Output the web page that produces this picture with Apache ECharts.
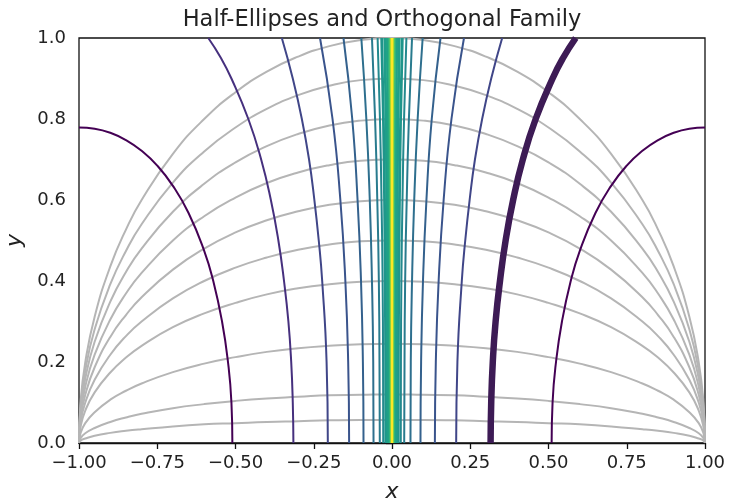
<!DOCTYPE html>
<html>
<head>
<meta charset="utf-8">
<script src="https://cdn.jsdelivr.net/npm/echarts@6/dist/echarts.min.js"></script>
<style>
html, body { margin: 0; padding: 0; background: #fff; }
#chart { width: 729px; height: 503px; }
</style>
</head>
<body>
<div id="chart"></div>
<script>
// half-ellipses (gray) at fixed x positions
var ellipseX = [-1, -0.995, -0.98, -0.95, -0.9, -0.85, -0.8, -0.7, -0.6, -0.5, -0.4, -0.3, -0.2, -0.1, 0,
    0.1, 0.2, 0.3, 0.4, 0.5, 0.6, 0.7, 0.8, 0.85, 0.9, 0.95, 0.98, 0.995, 1];
var ellipse100 = [0, 0.100, 0.199, 0.312, 0.436, 0.527, 0.600, 0.714, 0.800, 0.866, 0.917, 0.954, 0.980, 0.995, 1.000,
    0.995, 0.980, 0.954, 0.917, 0.866, 0.800, 0.714, 0.600, 0.527, 0.436, 0.312, 0.199, 0.100, 0];
var ellipse090 = [0, 0.090, 0.179, 0.281, 0.392, 0.474, 0.540, 0.643, 0.720, 0.779, 0.825, 0.859, 0.882, 0.896, 0.900,
    0.896, 0.882, 0.859, 0.825, 0.779, 0.720, 0.643, 0.540, 0.474, 0.392, 0.281, 0.179, 0.090, 0];
var ellipse080 = [0, 0.080, 0.159, 0.250, 0.349, 0.422, 0.480, 0.571, 0.640, 0.693, 0.733, 0.763, 0.784, 0.796, 0.800,
    0.796, 0.784, 0.763, 0.733, 0.693, 0.640, 0.571, 0.480, 0.422, 0.349, 0.250, 0.159, 0.080, 0];
var ellipse070 = [0, 0.070, 0.139, 0.218, 0.305, 0.369, 0.420, 0.500, 0.560, 0.606, 0.642, 0.668, 0.686, 0.697, 0.700,
    0.697, 0.686, 0.668, 0.642, 0.606, 0.560, 0.500, 0.420, 0.369, 0.305, 0.218, 0.139, 0.070, 0];
var ellipse060 = [0, 0.060, 0.119, 0.187, 0.262, 0.316, 0.360, 0.428, 0.480, 0.520, 0.550, 0.572, 0.588, 0.597, 0.600,
    0.597, 0.588, 0.572, 0.550, 0.520, 0.480, 0.428, 0.360, 0.316, 0.262, 0.187, 0.119, 0.060, 0];
var ellipse050 = [0, 0.050, 0.100, 0.156, 0.218, 0.264, 0.300, 0.357, 0.400, 0.433, 0.458, 0.477, 0.490, 0.498, 0.500,
    0.498, 0.490, 0.477, 0.458, 0.433, 0.400, 0.357, 0.300, 0.264, 0.218, 0.156, 0.100, 0.050, 0];
var ellipse040 = [0, 0.040, 0.080, 0.125, 0.174, 0.211, 0.240, 0.286, 0.320, 0.346, 0.367, 0.382, 0.392, 0.398, 0.400,
    0.398, 0.392, 0.382, 0.367, 0.346, 0.320, 0.286, 0.240, 0.211, 0.174, 0.125, 0.080, 0.040, 0];
var ellipse025 = [0, 0.024, 0.049, 0.076, 0.107, 0.129, 0.147, 0.175, 0.196, 0.212, 0.225, 0.234, 0.240, 0.244, 0.245,
    0.244, 0.240, 0.234, 0.225, 0.212, 0.196, 0.175, 0.147, 0.129, 0.107, 0.076, 0.049, 0.024, 0];
var ellipse012 = [0, 0.012, 0.024, 0.037, 0.052, 0.063, 0.072, 0.086, 0.096, 0.104, 0.110, 0.114, 0.118, 0.119, 0.120,
    0.119, 0.118, 0.114, 0.110, 0.104, 0.096, 0.086, 0.072, 0.063, 0.052, 0.037, 0.024, 0.012, 0];
var ellipse006 = [0, 0.006, 0.011, 0.018, 0.025, 0.030, 0.034, 0.041, 0.046, 0.049, 0.052, 0.054, 0.056, 0.057, 0.057,
    0.057, 0.056, 0.054, 0.052, 0.049, 0.046, 0.041, 0.034, 0.030, 0.025, 0.018, 0.011, 0.006, 0];

// orthogonal family, outer curves
var curveAY = [0, 0.1, 0.2, 0.3, 0.4, 0.4745, 0.568, 0.635, 0.685, 0.7215, 0.748, 0.766, 0.776, 0.779];
var curveARight = [0.51, 0.513, 0.524, 0.543, 0.571, 0.6, 0.65, 0.7, 0.75, 0.8, 0.85, 0.9, 0.95, 1];
var curveALeft = [-0.51, -0.513, -0.524, -0.543, -0.571, -0.6, -0.65, -0.7, -0.75, -0.8, -0.85, -0.9, -0.95, -1];

var curveBY = [0, 0.1, 0.2, 0.3, 0.4, 0.5, 0.6, 0.7, 0.8, 0.9, 0.95, 1];
var curveBRight = [0.315, 0.317, 0.322, 0.331, 0.345, 0.363, 0.387, 0.418, 0.459, 0.513, 0.546, 0.587];
var curveBLeft = [-0.315, -0.317, -0.322, -0.331, -0.345, -0.363, -0.387, -0.418, -0.459, -0.513, -0.546, -0.587];

var curveCY = [0, 0.2, 0.4, 0.5, 0.6, 0.7, 0.8, 0.9, 1];
var curveCRight = [0.205, 0.209, 0.223, 0.234, 0.248, 0.265, 0.288, 0.317, 0.352];
var curveCLeft = [-0.205, -0.209, -0.223, -0.234, -0.248, -0.265, -0.288, -0.317, -0.352];

// inner curves, all on the same y rows
var innerY = [0, 0.2, 0.4, 0.6, 0.8, 1];
var curveDRight = [0.137, 0.140, 0.149, 0.165, 0.190, 0.230];
var curveDLeft = [-0.137, -0.140, -0.149, -0.165, -0.190, -0.230];
var curveERight = [0.091, 0.093, 0.099, 0.110, 0.127, 0.155];
var curveELeft = [-0.091, -0.093, -0.099, -0.110, -0.127, -0.155];
var curveFRight = [0.059, 0.060, 0.064, 0.071, 0.082, 0.098];
var curveFLeft = [-0.059, -0.060, -0.064, -0.071, -0.082, -0.098];
var curveGRight = [0.039, 0.040, 0.042, 0.047, 0.054, 0.064];
var curveGLeft = [-0.039, -0.040, -0.042, -0.047, -0.054, -0.064];
var curveHRight = [0.028, 0.0285, 0.030, 0.0335, 0.0385, 0.046];
var curveHLeft = [-0.028, -0.0285, -0.030, -0.0335, -0.0385, -0.046];
var curveIRight = [0.02, 0.0204, 0.0217, 0.0239, 0.0275, 0.033];
var curveILeft = [-0.02, -0.0204, -0.0217, -0.0239, -0.0275, -0.033];
var curveJRight = [0.014, 0.0143, 0.0152, 0.0168, 0.0193, 0.0231];
var curveJLeft = [-0.014, -0.0143, -0.0152, -0.0168, -0.0193, -0.0231];
var curveKRight = [0.0095, 0.0097, 0.0103, 0.0114, 0.0131, 0.0157];
var curveKLeft = [-0.0095, -0.0097, -0.0103, -0.0114, -0.0131, -0.0157];
var curveLRight = [0.006, 0.0061, 0.0065, 0.0072, 0.0083, 0.0099];
var curveLLeft = [-0.006, -0.0061, -0.0065, -0.0072, -0.0083, -0.0099];
var curveMRight = [0.004, 0.0041, 0.0043, 0.0048, 0.0055, 0.0066];
var curveMLeft = [-0.004, -0.0041, -0.0043, -0.0048, -0.0055, -0.0066];
var curveNRight = [0.0027, 0.0028, 0.0029, 0.0032, 0.0037, 0.0045];
var curveNLeft = [-0.0027, -0.0028, -0.0029, -0.0032, -0.0037, -0.0045];
var curveORight = [0.0017, 0.0017, 0.0018, 0.002, 0.0023, 0.0028];
var curveOLeft = [-0.0017, -0.0017, -0.0018, -0.002, -0.0023, -0.0028];
var curvePRight = [0.001, 0.001, 0.0011, 0.0012, 0.0014, 0.0016];
var curvePLeft = [-0.001, -0.001, -0.0011, -0.0012, -0.0014, -0.0016];
var curveCenter = [0, 0, 0, 0, 0, 0];

var xTicks = [-1, -0.75, -0.5, -0.25, 0, 0.25, 0.5, 0.75, 1];
var yTicks = [0, 0.2, 0.4, 0.6, 0.8, 1];

var levelColors = ['#440154', '#46307e', '#404688', '#3a548c', '#34618d', '#2e6f8e', '#297b8e', '#23898e',
    '#1f958b', '#1f9e89', '#20a386', '#2eb37c', '#4ec36b', '#7ad151', '#b5de2b', '#dde318', '#fde725'];
var levelWidths = [2, 2, 2, 2, 2, 2, 2, 2, 2.8, 2.8, 2.6, 2, 1.8, 1.5, 1.5, 1.5, 2];

function lineSeries(xs, ys, color, width) {
    var data = [];
    for (var i = 0; i < xs.length; i++) {
        data.push([xs[i], ys[i]]);
    }
    return {
        type: 'line',
        data: data,
        smooth: 0.5,
        showSymbol: false,
        symbol: 'none',
        silent: true,
        lineStyle: { color: color, width: width }
    };
}

var series = [];
[ellipse100, ellipse090, ellipse080, ellipse070, ellipse060, ellipse050, ellipse040, ellipse025, ellipse012, ellipse006].forEach(function (ys) {
    series.push(lineSeries(ellipseX, ys, '#b5b5b5', 2));
});

var family = [
    [curveARight, curveALeft, curveAY],
    [curveBRight, curveBLeft, curveBY],
    [curveCRight, curveCLeft, curveCY],
    [curveDRight, curveDLeft, innerY],
    [curveERight, curveELeft, innerY],
    [curveFRight, curveFLeft, innerY],
    [curveGRight, curveGLeft, innerY],
    [curveHRight, curveHLeft, innerY],
    [curveIRight, curveILeft, innerY],
    [curveJRight, curveJLeft, innerY],
    [curveKRight, curveKLeft, innerY],
    [curveLRight, curveLLeft, innerY],
    [curveMRight, curveMLeft, innerY],
    [curveNRight, curveNLeft, innerY],
    [curveORight, curveOLeft, innerY],
    [curvePRight, curvePLeft, innerY]
];
family.forEach(function (c, i) {
    series.push(lineSeries(c[1], c[2], levelColors[i], levelWidths[i]));
    series.push(lineSeries(c[0], c[2], levelColors[i], levelWidths[i]));
});
series.push(lineSeries(curveCenter, innerY, levelColors[16], levelWidths[16]));

// highlighted member of the family
series.push(lineSeries(curveBRight, curveBY, '#3d1b55', 6.5));

var chart = echarts.init(document.getElementById('chart'));
var font = 'DejaVu Sans';
chart.setOption({
    animation: false,
    backgroundColor: '#fff',
    title: {
        text: 'Half-Ellipses and Orthogonal Family',
        left: 377,
        top: 4,
        textAlign: 'center',
        textStyle: { fontFamily: font, fontSize: 22.5, fontWeight: 'normal', color: '#222' }
    },
    grid: {
        left: 79, right: 24, top: 38, bottom: 60,
        containLabel: false, outerBoundsMode: 'none',
        show: true, borderColor: '#111', borderWidth: 1.3, backgroundColor: 'transparent'
    },
    xAxis: {
        type: 'value', min: -1, max: 1, interval: 0.25,
        name: 'x', nameLocation: 'middle', nameGap: 38,
        nameTextStyle: { fontFamily: font, fontStyle: 'italic', fontSize: 22, color: '#222' },
        axisLine: { lineStyle: { color: '#111', width: 1.3 } },
        axisTick: { length: 6, lineStyle: { color: '#111', width: 1.3 } },
        axisLabel: {
            fontFamily: font, fontSize: 18, color: '#222', margin: 11,
            formatter: function (v) {
                var s = xTicks.indexOf(v) >= 0 ? v.toFixed(2) : '';
                return s.replace('-', '\u2212');
            }
        },
        splitLine: { show: false }
    },
    yAxis: {
        type: 'value', min: 0, max: 1, interval: 0.2,
        name: 'y', nameLocation: 'middle', nameGap: 48, nameRotate: 90,
        nameTextStyle: { fontFamily: font, fontStyle: 'italic', fontSize: 22, color: '#222' },
        axisLine: { show: true, lineStyle: { color: '#111', width: 1.3 } },
        axisTick: { show: true, length: 6, lineStyle: { color: '#111', width: 1.3 } },
        axisLabel: {
            fontFamily: font, fontSize: 18, color: '#222', margin: 13,
            formatter: function (v) { return v.toFixed(1); }
        },
        splitLine: { show: false }
    },
    series: series
});
</script>
</body>
</html>
